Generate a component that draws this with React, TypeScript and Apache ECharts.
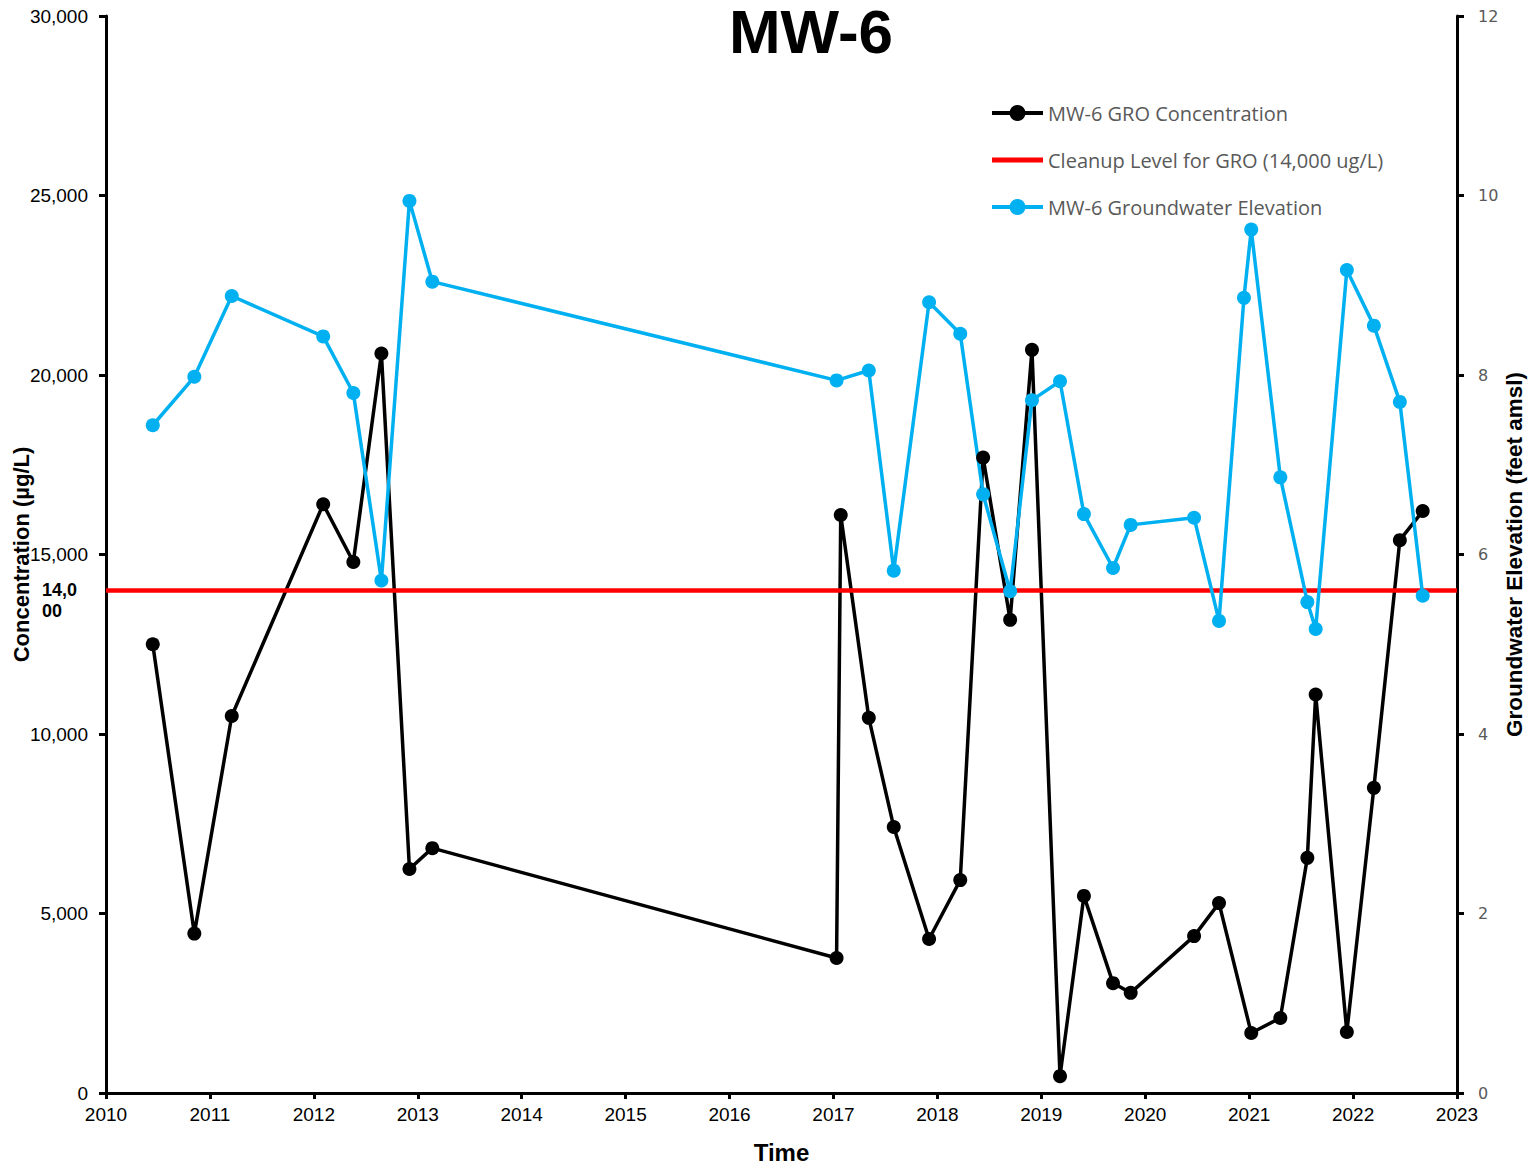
import React, { useEffect, useRef } from "react";
import * as echarts from "echarts";

const groDates = [
  2010.45, 2010.85, 2011.21, 2012.09, 2012.38, 2012.65, 2012.92, 2013.14,
  2017.03, 2017.07, 2017.34, 2017.58, 2017.92, 2018.22, 2018.44, 2018.7,
  2018.91, 2019.18, 2019.41, 2019.69, 2019.86, 2020.47, 2020.71, 2021.02,
  2021.3, 2021.56, 2021.64, 2021.94, 2022.2, 2022.45, 2022.67,
];
const groValues = [
  12500, 4440, 10500, 16400, 14790, 20600, 6240, 6820,
  3760, 16100, 10450, 7410, 4290, 5930, 17700, 13180,
  20700, 470, 5490, 3060, 2790, 4370, 5290, 1670,
  2090, 6550, 11100, 1700, 8500, 15400, 16210,
];
const gwDates = [
  2010.45, 2010.85, 2011.21, 2012.09, 2012.38, 2012.65, 2012.92, 2013.14,
  2017.03, 2017.34, 2017.58, 2017.92, 2018.22, 2018.44, 2018.7, 2018.91,
  2019.18, 2019.41, 2019.69, 2019.86, 2020.47, 2020.71, 2020.95, 2021.02,
  2021.3, 2021.56, 2021.64, 2021.94, 2022.2, 2022.45, 2022.67,
];
const gwValues = [
  7.44, 7.98, 8.88, 8.43, 7.8, 5.71, 9.94, 9.04,
  7.94, 8.05, 5.82, 8.81, 8.46, 6.67, 5.59, 7.72,
  7.93, 6.45, 5.85, 6.33, 6.41, 5.26, 8.86, 9.62,
  6.86, 5.47, 5.17, 9.17, 8.55, 7.7, 5.54,
];
const cleanupLevel = 14000;
const cleanupRange = [2010, 2023];
const xRange = [2010, 2023];
const leftRange = [0, 30000];
const rightRange = [0, 12];

const seriesNames = [
  "MW-6 GRO Concentration",
  "Cleanup Level for GRO (14,000 ug/L)",
  "MW-6 Groundwater Elevation",
];

export default function App() {
  const ref = useRef<HTMLDivElement>(null);
  useEffect(() => {
    document.body.style.margin = "0";
    const chart = echarts.init(ref.current!, null, { renderer: "svg" });
    const axisLine = { show: true, lineStyle: { color: "#000", width: 3 } };
    chart.setOption({
      animation: false,
      backgroundColor: "#fff",
      grid: {
        left: 106,
        right: 76,
        top: 16,
        bottom: 75,
        containLabel: false,
        outerBoundsMode: "none",
      },
      legend: {
        orient: "vertical",
        left: 990,
        top: 103,
        padding: 0,
        itemWidth: 51,
        itemHeight: 20,
        itemGap: 27,
        data: [
          { name: seriesNames[0], lineStyle: { width: 4 } },
          {
            name: seriesNames[1],
            icon: "path://M0,0 L51,0 L51,5 L0,5 Z",
            itemStyle: { color: "#FF0000" },
          },
          { name: seriesNames[2], lineStyle: { width: 4 } },
        ],
        textStyle: {
          color: "#595959",
          fontSize: 20,
          fontFamily: "Open Sans",
          lineHeight: 20,
        },
      },
      xAxis: {
        type: "value",
        min: xRange[0],
        max: xRange[1],
        interval: 1,
        name: "Time",
        nameLocation: "middle",
        nameGap: 47,
        nameMoveOverlap: false,
        nameTextStyle: { fontSize: 24, fontWeight: "bold", fontFamily: "Liberation Sans, Arial", color: "#000" },
        axisLine,
        axisTick: { show: true, length: 6, lineStyle: { color: "#000", width: 3 } },
        axisLabel: {
          formatter: (v: number) => String(v),
          fontSize: 19,
          fontFamily: "Liberation Sans, Arial",
          color: "#000",
          margin: 12,
        },
        splitLine: { show: false },
      },
      yAxis: [
        {
          type: "value",
          min: leftRange[0],
          max: leftRange[1],
          interval: 5000,
          position: "left",
          name: "Concentration (µg/L)",
          nameLocation: "middle",
          nameGap: 74,
          nameMoveOverlap: false,
          nameTextStyle: { fontSize: 22, fontWeight: "bold", fontFamily: "Liberation Sans, Arial", color: "#000" },
          axisLine,
          axisTick: { show: true, length: 7, lineStyle: { color: "#000", width: 3 } },
          axisLabel: { fontSize: 19, fontFamily: "Liberation Sans, Arial", color: "#000", margin: 18 },
          splitLine: { show: false },
        },
        {
          type: "value",
          min: rightRange[0],
          max: rightRange[1],
          interval: 2,
          position: "right",
          name: "Groundwater Elevation (feet amsl)",
          nameLocation: "middle",
          nameGap: 46,
          nameMoveOverlap: false,
          nameRotate: 90,
          nameTextStyle: { fontSize: 22.5, fontWeight: "bold", fontFamily: "Liberation Sans, Arial", color: "#000" },
          axisLine,
          axisTick: { show: true, length: 7, lineStyle: { color: "#000", width: 3 } },
          axisLabel: { fontSize: 16, fontFamily: "DejaVu Sans", color: "#595959", margin: 21 },
          splitLine: { show: false },
        },
      ],
      series: [
        {
          name: seriesNames[0],
          type: "line",
          yAxisIndex: 0,
          data: groDates.map((d, i) => [d, groValues[i]]),
          symbol: "circle",
          symbolSize: 14,
          itemStyle: { color: "#000" },
          lineStyle: { color: "#000", width: 3.5 },
        },
        {
          name: seriesNames[1],
          type: "line",
          yAxisIndex: 0,
          data: cleanupRange.map((d) => [d, cleanupLevel]),
          symbol: "none",
          itemStyle: { color: "#FF0000" },
          lineStyle: { color: "#FF0000", width: 4.5 },
        },
        {
          name: seriesNames[2],
          type: "line",
          yAxisIndex: 1,
          data: gwDates.map((d, i) => [d, gwValues[i]]),
          symbol: "circle",
          symbolSize: 14,
          itemStyle: { color: "#00B0F0" },
          lineStyle: { color: "#00B0F0", width: 3.5 },
        },
      ],
    });
    const yPix = chart.convertToPixel({ yAxisIndex: 0 }, cleanupLevel) as number;
    chart.setOption({
      graphic: [
        {
          type: "text",
          x: 811,
          y: 2,
          style: {
            text: "MW-6",
            fontSize: 62,
            lineHeight: 58,
            fontWeight: "bold",
            fontFamily: "Liberation Sans, Arial",
            fill: "#000",
            textAlign: "center",
            textVerticalAlign: "top",
          },
        },
        {
          type: "text",
          x: 42,
          y: yPix - 11,
          style: {
            text: "14,0\n00",
            fontSize: 18,
            fontWeight: "bold",
            fontFamily: "Liberation Sans, Arial",
            fill: "#000",
            lineHeight: 21,
            textVerticalAlign: "top",
          },
        },
      ],
    });
    return () => chart.dispose();
  }, []);
  return <div ref={ref} style={{ width: 1533, height: 1168 }} />;
}
